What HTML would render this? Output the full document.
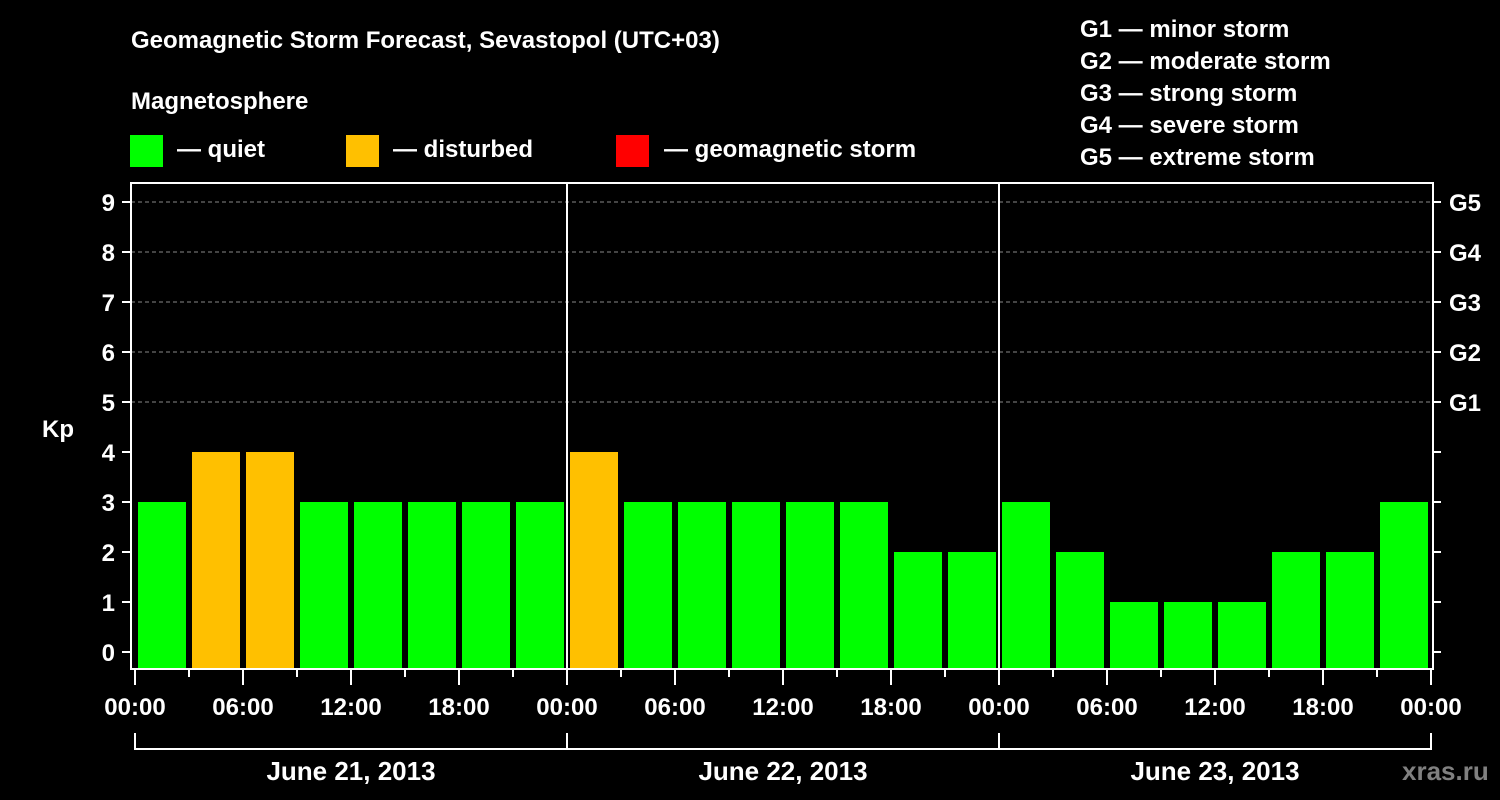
<!DOCTYPE html>
<html><head><meta charset="utf-8"><style>
html,body{margin:0;padding:0;background:#000;}
svg{display:block;font-family:"Liberation Sans",sans-serif;font-weight:bold;}
</style></head><body>
<svg id="chart" width="1500" height="800" viewBox="0 0 1500 800">
<rect width="1500" height="800" fill="#000"/>
<text x="131" y="48" fill="#fff" font-size="24">Geomagnetic Storm Forecast, Sevastopol (UTC+03)</text>
<text x="131" y="109" fill="#fff" font-size="24">Magnetosphere</text>
<g><rect x="130" y="135" width="33" height="32" fill="#00ff00"/><text x="177" y="157" fill="#fff" font-size="24">— quiet</text></g>
<g><rect x="346" y="135" width="33" height="32" fill="#ffc000"/><text x="393" y="157" fill="#fff" font-size="24">— disturbed</text></g>
<g><rect x="616" y="135" width="33" height="32" fill="#ff0000"/><text x="664" y="157" fill="#fff" font-size="24">— geomagnetic storm</text></g>
<g fill="#fff" font-size="24">
<text x="1080" y="37">G1 — minor storm</text>
<text x="1080" y="69">G2 — moderate storm</text>
<text x="1080" y="101">G3 — strong storm</text>
<text x="1080" y="133">G4 — severe storm</text>
<text x="1080" y="165">G5 — extreme storm</text>
</g>
<text x="42" y="437" fill="#fff" font-size="24">Kp</text>
<g id="grid"></g>
<g id="bars"></g>
<g id="axes"></g>
<text x="1402" y="780" fill="#808080" font-size="26">xras.ru</text>
</svg>
<script>
const days = ["June 21, 2013","June 22, 2013","June 23, 2013"];
const kpValues = [3,4,4,3,3,3,3,3, 4,3,3,3,3,3,2,2, 3,2,1,1,1,2,2,3];
const yTicks = [0,1,2,3,4,5,6,7,8,9];
const gLabels = ["G1","G2","G3","G4","G5"];
const timeLabels = ["00:00","06:00","12:00","18:00"];

const NS="http://www.w3.org/2000/svg";
const X0=135, HOUR=18, PL=131, PR=1433, PT=183, PB=669;
const x = h => X0 + h*HOUR;
const y = v => 652 - v*50;
function mk(tag, attrs, parent){const e=document.createElementNS(NS,tag);for(const k in attrs)e.setAttribute(k,attrs[k]);parent.appendChild(e);return e;}
const grid=document.getElementById('grid'), bars=document.getElementById('bars'), axes=document.getElementById('axes');
const colorFor = v => v>=5 ? "#ff0000" : (v>=4 ? "#ffc000" : "#00ff00");

yTicks.forEach(t=>{
  if(t>=5){
    const l=mk('line',{x1:PL,x2:PR,y1:y(t),y2:y(t),stroke:'#888','stroke-dasharray':'4,3','stroke-width':1},grid);
    
    
  }
  const tk=mk('line',{x1:122,x2:PL,y1:y(t),y2:y(t),stroke:'#fff','stroke-width':2},axes);
  
  
  const lb=mk('text',{x:115,y:y(t)+9,fill:'#fff','font-size':24,'text-anchor':'end'},axes);
  lb.textContent=t;
  
  
  const rt=mk('line',{x1:PR,x2:1441,y1:y(t),y2:y(t),stroke:'#fff','stroke-width':2},axes);
  
  
});
gLabels.forEach((g,i)=>{
  const t=mk('text',{x:1449,y:y(5+i)+9,fill:'#fff','font-size':24},axes);
  t.textContent=g;
  
  
});

kpValues.forEach((v,i)=>{
  const r=mk('rect',{x:x(i*3)+3,y:y(v),width:48,height:668-y(v),fill:colorFor(v)},bars);
  
  
});

const fr=mk('rect',{x:PL,y:PT,width:PR-PL,height:PB-PT,fill:'none',stroke:'#fff','stroke-width':2},axes);


for(let d=1; d<days.length; d++){
  const l=mk('line',{x1:x(d*24),x2:x(d*24),y1:PT,y2:PB,stroke:'#fff','stroke-width':2},axes);
  
  
}
const totalH=days.length*24;
for(let h=0; h<=totalH; h+=3){
  const major=h%6===0;
  const tk=mk('line',{x1:x(h),x2:x(h),y1:PB,y2:major?685:677,stroke:'#fff','stroke-width':2},axes);
  
  
  if(major){
    const lb=mk('text',{x:x(h),y:715,fill:'#fff','font-size':24,'text-anchor':'middle'},axes);
    lb.textContent=timeLabels[(h/6)%4];
    
    
  }
}
days.forEach((d,i)=>{
  const a=x(i*24), b=x((i+1)*24);
  const p=mk('path',{d:`M${a},733 V749 H${b} V733`,fill:'none',stroke:'#fff','stroke-width':2},axes);
  
  
  const t=mk('text',{x:(a+b)/2,y:780,fill:'#fff','font-size':26,'text-anchor':'middle'},axes);
  t.textContent=d;
  
  
});
</script>
</body></html>
